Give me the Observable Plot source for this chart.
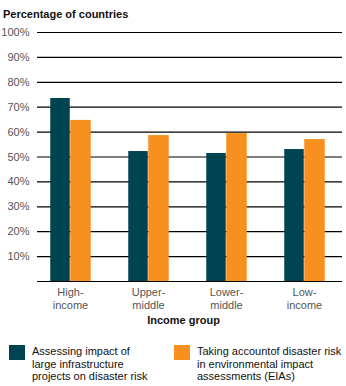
<!DOCTYPE html>
<html><head><meta charset="utf-8">
<script src="https://cdn.jsdelivr.net/npm/d3@7"></script>
<script src="https://cdn.jsdelivr.net/npm/@observablehq/plot@0.6"></script>
<style>
body{margin:0;font-family:"Liberation Sans",Arial,sans-serif;background:#fff;width:346px;}
#title{font-weight:bold;font-size:11px;color:#111;padding:8px 0 0 3px;height:12px;line-height:12px;}
#legend{display:flex;margin-top:13px;font-size:11px;line-height:12.5px;color:#111;}
.item{display:flex;align-items:flex-start;}
.sw{width:16px;height:15px;flex:none;margin-top:0px;}
</style></head>
<body>
<div id="title">Percentage of countries</div>
<div id="chart"></div>
<div id="legend"></div>
<script>
const groups = ["High-\nincome", "Upper-\nmiddle", "Lower-\nmiddle", "Low-\nincome"];
const assessing = [73.5, 52.2, 51.4, 53.0];
const eias = [64.7, 58.6, 59.4, 57.0];
const seriesNames = ["Assessing impact of\nlarge infrastructure\nprojects on disaster risk", "Taking accountof disaster risk\nin environmental impact\nassessments (EIAs)"];
const colors = ["#004452", "#f7901e"];
const yTicks = [10, 20, 30, 40, 50, 60, 70, 80, 90, 100];

const dataA = groups.map((g, i) => ({group: g, value: assessing[i]}));
const dataB = groups.map((g, i) => ({group: g, value: eias[i]}));

const chart = Plot.plot({
  width: 346,
  height: 312,
  marginLeft: 30,
  marginRight: 2,
  marginTop: 12,
  marginBottom: 51,
  style: {fontFamily: "Liberation Sans, Arial, sans-serif", fontSize: "11px", color: "#555", background: "#fff"},
  x: {domain: groups, padding: 0, axis: null},
  y: {domain: [0, 100], ticks: yTicks, tickFormat: d => d + "%", tickSize: 0, tickPadding: 1, label: null},
  marks: [
    Plot.ruleY(yTicks, {stroke: "black", strokeWidth: 1.2, insetLeft: 7, insetRight: 2}),
    Plot.barY(dataA, {x: "group", y: "value", fill: colors[0], insetLeft: 19.25, insetRight: 39.25}),
    Plot.barY(dataB, {x: "group", y: "value", fill: colors[1], insetLeft: 39.25, insetRight: 18.25}),
    Plot.ruleY([0], {stroke: "black", strokeWidth: 1.2, insetLeft: 7, insetRight: 2}),
    Plot.text(groups, {x: d => d, text: d => d, frameAnchor: "bottom", lineAnchor: "top", dy: 5, lineHeight: 1.2, fill: "#555", fontSize: 11}),
    Plot.text(["Income group"], {text: d => d, frameAnchor: "bottom", lineAnchor: "top", dy: 35, dx: -4, fill: "#111", fontWeight: "bold", fontSize: 11})
  ]
});
document.getElementById("chart").appendChild(chart);

const legend = document.getElementById("legend");
seriesNames.forEach((name, i) => {
  const item = document.createElement("div");
  item.className = "item";
  item.style.marginLeft = i === 0 ? "9px" : "0px";
  item.style.width = i === 0 ? "165px" : "170px";
  const sw = document.createElement("div");
  sw.className = "sw";
  sw.style.background = colors[i];
  const t = document.createElement("div");
  t.style.marginLeft = "7px";
  t.style.whiteSpace = "pre";
  t.textContent = name;
  item.appendChild(sw);
  item.appendChild(t);
  legend.appendChild(item);
});
</script>
</body></html>
